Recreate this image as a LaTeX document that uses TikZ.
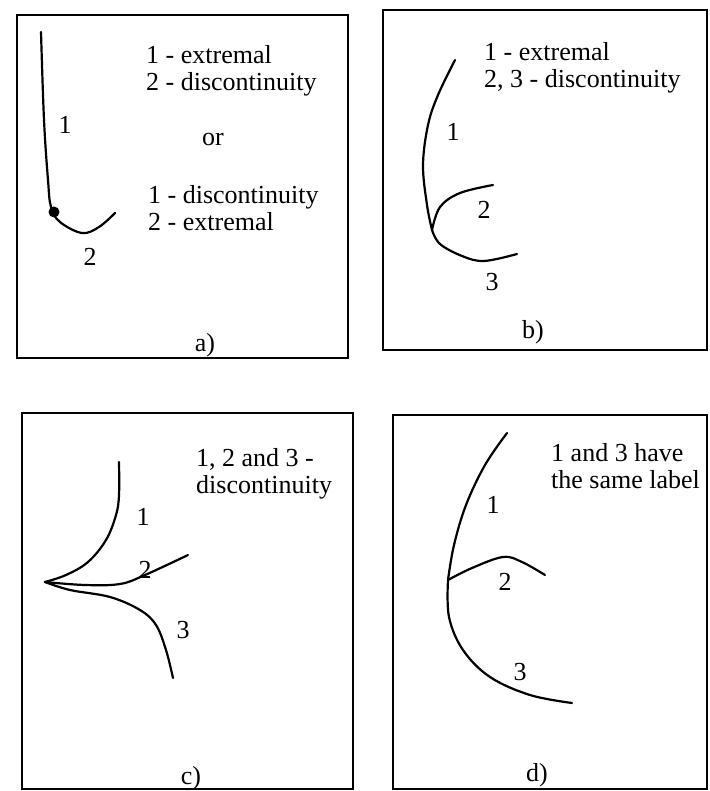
\documentclass[tikz,border=0pt]{standalone}
\usepackage{fontspec}
\setmainfont{Liberation Serif}
\begin{document}
\begin{tikzpicture}[x=1pt,y=-1pt,
  frame/.style={line width=1.6pt},
  curve/.style={line width=2.2pt,line cap=round,line join=round},
  txt/.style={font=\fontsize{26}{27}\selectfont,inner sep=0pt,align=left,anchor=west},
  num/.style={font=\fontsize{26}{27}\selectfont,inner sep=0pt}]
\useasboundingbox[fill=white] (0,0) rectangle (709,791);
% frames
\draw[frame] (17,15) rectangle (348,358);
\draw[frame] (383,10) rectangle (707,350);
\draw[frame] (22,413) rectangle (353,789);
\draw[frame] (393,415) rectangle (707,789);
% panel a
\draw[curve] plot[smooth,tension=0.6] coordinates {(41,32) (44,120) (48,180) (51,207) (60,222) (82,233) (99,227) (115,213)};
\fill (54,212) circle (5.5);
\node[num] (a1) at (65,125) {1};
\node[num] (a2) at (90,257) {2};
\node[txt] (ta1) at (146,71) {1 - extremal\\2 - discontinuity};
\node[num] (tor) at (213,140) {or};
\node[txt] (ta2) at (148,208) {1 - discontinuity\\2 - extremal};
\node[num] (la) at (205,345) {a)};
% panel b
\draw[curve] plot[smooth,tension=0.6] coordinates {(455,60) (438,95) (428,125) (423,165) (427,205) (432,230)};
\draw[curve] plot[smooth,tension=0.6] coordinates {(432,230) (440,207) (460,193) (493,185)};
\draw[curve] plot[smooth,tension=0.6] coordinates {(432,230) (440,244) (462,256) (484,261) (517,254)};
\node[num] (b1) at (453,132) {1};
\node[num] (b2) at (484,210) {2};
\node[num] (b3) at (492,282) {3};
\node[txt] (tb) at (484,68) {1 - extremal\\2, 3 - discontinuity};
\node[num] (lb) at (533,332) {b)};
% panel c
\draw[curve] plot[smooth,tension=0.6] coordinates {(119,462) (119,495) (116,515) (106,540) (88,562) (66,575) (45,582)};
\draw[curve] plot[smooth,tension=0.6] coordinates {(45,582) (85,585) (120,584) (145,575) (188,555)};
\draw[curve] plot[smooth,tension=0.6] coordinates {(45,582) (70,590) (110,597) (140,610) (156,625) (166,650) (173,678)};
\node[num] (c1) at (143,517) {1};
\node[num] (c2) at (145,570) {2};
\node[num] (c3) at (183,630) {3};
\node[txt] (tc) at (196,474) {1, 2 and 3 -\\discontinuity};
\node[num] (lc) at (191,778) {c)};
% panel d
\draw[curve] plot[smooth,tension=0.6] coordinates {(507,433) (485,465) (466,505) (454,545) (448,580)};
\draw[curve] plot[smooth,tension=0.6] coordinates {(448,580) (472,568) (503,557) (522,562) (545,575)};
\draw[curve] plot[smooth,tension=0.6] coordinates {(448,580) (449,617) (463,650) (490,677) (530,695) (572,703)};
\node[num] (d1) at (493,505) {1};
\node[num] (d2) at (505,582) {2};
\node[num] (d3) at (520,672) {3};
\node[txt] (td) at (551,466) {1 and 3 have\\the same label};
\node[num] (ld) at (537,775) {d)};
\end{tikzpicture}
\end{document}
